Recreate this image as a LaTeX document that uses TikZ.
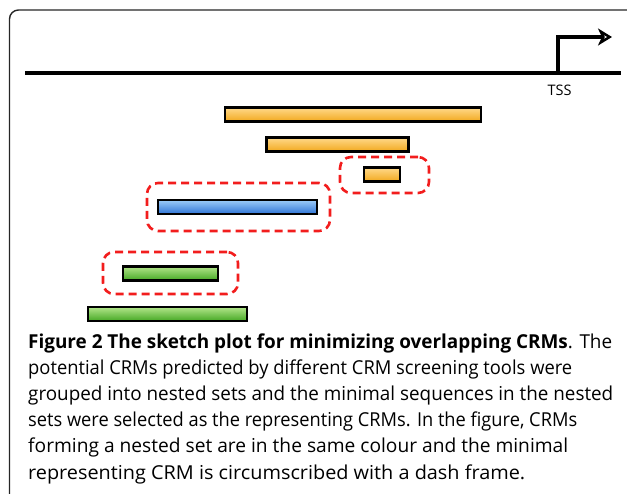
\documentclass[tikz,border=0pt]{standalone}
\usepackage{fontspec}
\usepackage{graphicx}
\setmainfont{Open Sans}
\usetikzlibrary{arrows.meta}
\definecolor{orA}{HTML}{FFD98A}
\definecolor{orB}{HTML}{F2A81D}
\definecolor{blA}{HTML}{9CCBF7}
\definecolor{blB}{HTML}{2F74D6}
\definecolor{grA}{HTML}{B2E58A}
\definecolor{grB}{HTML}{45A824}
\definecolor{dashred}{HTML}{F21D1D}
\newcommand\fitline[2]{\resizebox{#1}{\height}{#2}}
\tikzset{
  x=1pt, y=-1pt,
  bar/.style={draw=black, line width=2.6pt, anchor=north west, inner sep=0pt, outer sep=0pt},
  orangebar/.style={bar, top color=orA, bottom color=orB},
  bluebar/.style={bar, top color=blA, bottom color=blB},
  greenbar/.style={bar, top color=grA, bottom color=grB},
  redframe/.style={draw=dashred, line width=2.6pt, dash pattern=on 8pt off 5pt, rounded corners=11pt, anchor=north west, inner sep=0pt, outer sep=0pt},
  captionline/.style={anchor=base west, inner sep=0pt, font=\fontsize{19.2}{22}\selectfont}
}
\begin{document}
\begin{tikzpicture}
\useasboundingbox (0,0) rectangle (627,494);
\begin{scope}
\clip (0,0) rectangle (627,494);
\draw[line width=1.4pt, black!85, rounded corners=9pt] (9.5,10) rectangle (660,540);
\end{scope}
% genome line and TSS
\coordinate (lineL) at (25,73);
\coordinate (lineR) at (621,73);
\coordinate (tssBase) at (558,73);
\coordinate (tssTop) at (558,37);
\coordinate (tssTip) at (612,37);
\draw[line width=3.2pt] (lineL) -- (lineR);
\draw[line width=3.2pt, -{Stealth[open, length=14pt, width=17pt, inset=4pt]}] (tssBase) -- (tssTop) -- (tssTip);
\node[font=\fontsize{14.5}{16}\selectfont, inner sep=0pt] (tss) at (559.5,90) {TSS};
% bars
\node[orangebar, minimum width=256pt, minimum height=14pt] (o1) at (225,107.5) {};
\node[orangebar, minimum width=142pt, minimum height=14pt] (o2) at (266.5,137.5) {};
\node[orangebar, minimum width=36pt, minimum height=14pt] (o3) at (364,167.5) {};
\node[bluebar, minimum width=159pt, minimum height=14pt] (b1) at (158,200) {};
\node[greenbar, minimum width=95pt, minimum height=14pt] (g1) at (123,266.5) {};
\node[greenbar, minimum width=159pt, minimum height=14pt] (g2) at (88,307) {};
% dashed frames
\node[redframe, minimum width=89pt, minimum height=36pt] (f1) at (340,157) {};
\node[redframe, minimum width=183pt, minimum height=48pt] (f2) at (147,183) {};
\node[redframe, minimum width=135pt, minimum height=42pt] (f3) at (103,252) {};
% caption
\node[captionline] (c1) at (28,349) {\fitline{584pt}{\textbf{Figure 2 The sketch plot for minimizing overlapping CRMs}. The}};
\node[captionline] (c2) at (28,375) {\fitline{544pt}{potential CRMs predicted by different CRM screening tools were}};
\node[captionline] (c3) at (28,401) {\fitline{585pt}{grouped into nested sets and the minimal sequences in the nested}};
\node[captionline] (c4) at (28,427) {\fitline{549pt}{sets were selected as the representing CRMs. In the figure, CRMs}};
\node[captionline] (c5) at (28,453) {\fitline{540pt}{forming a nested set are in the same colour and the minimal}};
\node[captionline] (c6) at (28,479) {\fitline{497pt}{representing CRM is circumscribed with a dash frame.}};
\end{tikzpicture}
\end{document}
